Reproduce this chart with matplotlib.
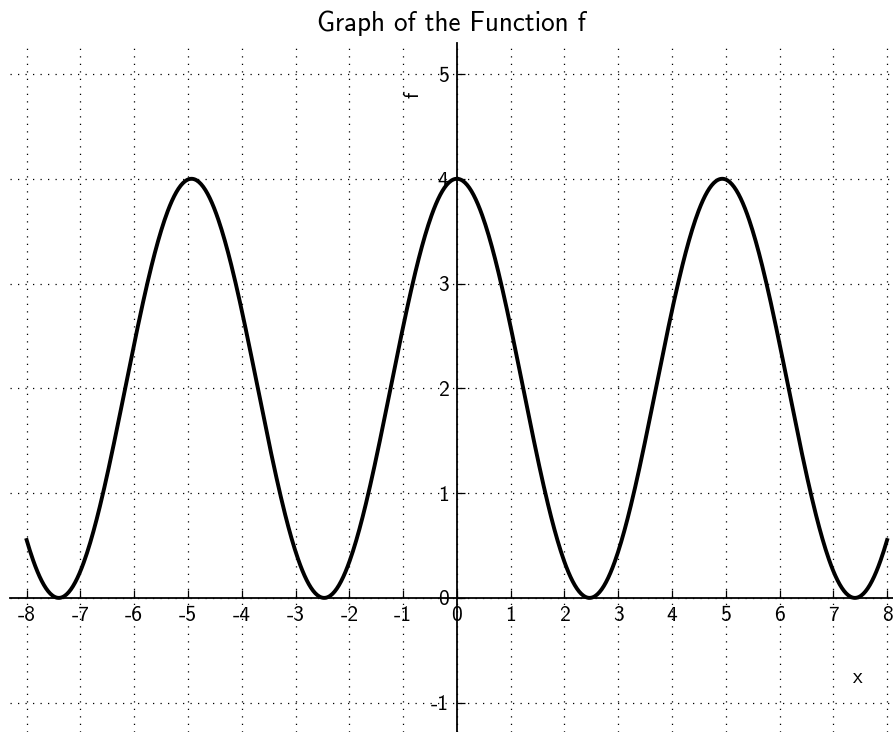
import numpy as np
import matplotlib
matplotlib.use("Agg")
import matplotlib.pyplot as plt

plt.rcParams['font.family'] = ['cmss10', 'DejaVu Sans']
plt.rcParams['axes.unicode_minus'] = False
plt.rcParams['mathtext.fontset'] = 'cm'

# f(x) = amp * cos^2(k x): peaks of 4 at 0 and +-4.93
amp = 4.0
k = 2 / np.pi
x_range = (-8, 8)
x_ticks = list(range(-8, 9))
y_ticks = list(range(-1, 6))

x = np.linspace(x_range[0], x_range[1], 800)
f = amp * np.cos(k * x) ** 2

fig = plt.figure(figsize=(8.93, 7.32), dpi=100)
ax = fig.add_axes([10 / 893, 0, 883 / 893, 689 / 732])

ax.plot(x, f, color='black', lw=2.8, zorder=3)

ax.set_xlim(-8.31, 8.11)
ax.set_ylim(-1.28, 5.296)

ax.spines['left'].set_position(('data', 0))
ax.spines['bottom'].set_position(('data', 0))
ax.spines['top'].set_visible(False)
ax.spines['right'].set_visible(False)
for s in ('left', 'bottom'):
    ax.spines[s].set_linewidth(1.3)

ax.set_xticks(x_ticks)
ax.set_xticklabels([str(t) for t in x_ticks])
ax.set_yticks(y_ticks)
ax.set_yticklabels([str(t) for t in y_ticks])
ax.tick_params(direction='in', length=6, width=0.9, labelsize=15.5, pad=6)

ax.grid(True, color='black', linestyle=(0, (1, 5)), linewidth=0.9)

ax.set_xlabel('x', fontsize=15)
ax.xaxis.set_label_coords(0.960, 0.093)
ax.set_ylabel('f', fontsize=15)
ax.yaxis.set_label_coords(0.467, 0.925)

ax.set_title('Graph of the Function f', fontsize=19.5, pad=9)

fig.savefig('out.png', dpi=100)
